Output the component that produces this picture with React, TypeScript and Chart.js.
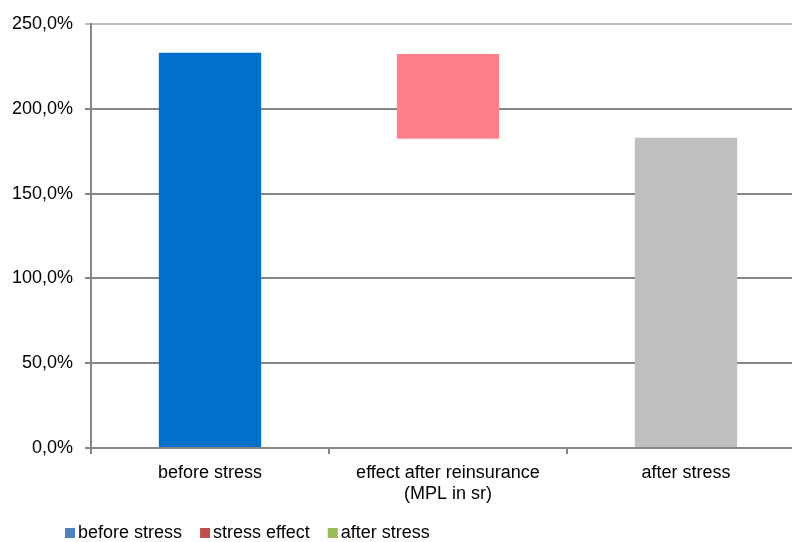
import { useEffect, useRef } from "react";
import { Chart, registerables } from "chart.js";

Chart.register(...registerables);

// Categories along the x axis (multi-line labels as arrays)
const categories = [["before stress"], ["effect after reinsurance", "(MPL in sr)"], ["after stress"]];

// Solvency ratio in percent
const beforeStress = [233.1, null, null];
const stressEffect = [null, [182.4, 232.3], null];
const afterStress = [null, null, 183.0];

// Legend entries
const legendLabels = ["before stress", "stress effect", "after stress"];
const legendColors = ["#4F81BD", "#C0504D", "#9BBB59"];

const FONT = "Arial, 'Liberation Sans', sans-serif";
const GRID = "#868686";
const GRID_TOP = "#BFBFBF";

const fmtPct = (v: number) => v.toFixed(1).replace(".", ",") + "%";

const legendPlugin = {
  id: "bottomLegend",
  afterDraw(chart: any) {
    const ctx = chart.ctx;
    ctx.save();
    ctx.font = `18px ${FONT}`;
    ctx.textBaseline = "middle";
    ctx.textAlign = "left";
    let x = 65;
    const cy = 533;
    legendLabels.forEach((label, i) => {
      ctx.fillStyle = legendColors[i];
      ctx.fillRect(x, cy - 5, 10, 10);
      ctx.fillStyle = "#000";
      ctx.fillText(label, x + 13, cy);
      x += 13 + ctx.measureText(label).width + 18;
    });
    ctx.restore();
  },
};

export default function App() {
  const ref = useRef<HTMLCanvasElement | null>(null);

  useEffect(() => {
    if (!ref.current) return;
    const chart = new Chart(ref.current, {
      type: "bar",
      data: {
        labels: categories as any,
        datasets: [
          { label: legendLabels[0], data: beforeStress as any, backgroundColor: "#0070CC" },
          { label: legendLabels[1], data: stressEffect as any, backgroundColor: "#FF7F8A" },
          { label: legendLabels[2], data: afterStress as any, backgroundColor: "#BFBFBF" },
        ],
      },
      options: {
        responsive: false,
        animation: false,
        devicePixelRatio: 1,
        datasets: { bar: { categoryPercentage: 1, barPercentage: 0.43 } },
        layout: { padding: { left: 0, top: 24, right: 25, bottom: 0 } },
        plugins: { legend: { display: false }, tooltip: { enabled: false } },
        scales: {
          x: {
            stacked: true,
            afterFit: (s: any) => {
              s.height = 94;
            },
            grid: {
              drawOnChartArea: false,
              drawTicks: true,
              tickLength: 6,
              color: GRID,
              lineWidth: 2,
              offset: true,
            },
            border: { display: true, color: GRID, width: 2 },
            ticks: {
              color: "#000",
              font: { family: FONT, size: 18, lineHeight: 1.2 },
              padding: 8,
              maxRotation: 0,
              autoSkip: false,
            },
          },
          y: {
            min: 0,
            max: 250,
            afterFit: (s: any) => {
              s.width = 91;
            },
            grid: {
              color: (c: any) => (c.tick && c.tick.value === 250 ? GRID_TOP : GRID),
              lineWidth: 2,
              tickLength: 6,
            },
            border: { display: true, color: GRID, width: 2 },
            ticks: {
              stepSize: 50,
              color: "#000",
              font: { family: FONT, size: 18 },
              padding: 12,
              callback: (v: any) => fmtPct(Number(v)),
            },
          },
        },
      },
      plugins: [legendPlugin],
    });
    return () => chart.destroy();
  }, []);

  return (
    <div style={{ position: "absolute", left: 0, top: 0, width: 792, height: 542, overflow: "hidden", background: "#fff" }}>
      <canvas ref={ref} width={830} height={542} style={{ display: "block" }} />
    </div>
  );
}
